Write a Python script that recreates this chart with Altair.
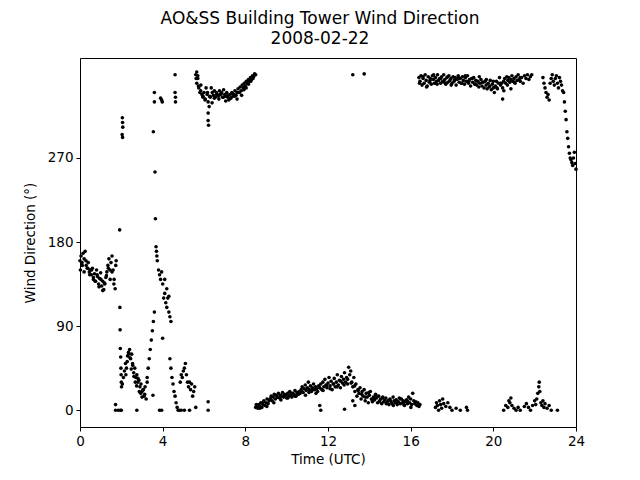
import altair as alt
import pandas as pd

# ---- regularly sampled runs: (start hour, step hour, values in degrees) ----
run_a_start, run_a_vals = 0.0, [160, 165, 158, 168, 162, 170, 155, 152, 158, 148, 150, 145, 152, 140, 146, 138,
                                150, 143, 135, 141, 147, 133, 138, 129, 135, 142, 148, 155, 162, 150, 158, 165,
                                150, 140, 130, 160]
run_a2_start, run_a2_vals = 0.02, [150, 155, 148, 160, 152, 145, 150, 142, 138, 145, 132, 140, 128, 136, 144, 152,
                                  140, 148, 135, 155]
run_c_start, run_c_vals = 2.05, [28, 35, 42, 50, 45, 58, 62, 65, 55, 60, 48, 40, 45, 35, 38, 30, 32, 25, 28, 20,
                                 22, 15, 25, 12, 30]
run_c2_start, run_c2_vals = 2.22, [38, 52, 60, 56, 44, 50, 36, 30, 26, 34, 20, 18, 14, 22, 17]
run_d_start, run_d_vals = 3.25, [35, 45, 55, 65, 75, 85, 95, 105]
run_f_start, run_f_vals = 3.80, [150, 145, 140, 148, 135, 120, 125, 115, 110, 120, 105, 100, 95]
run_h_start, run_h_vals = 4.35, [55, 45, 35, 28, 20, 15, 8, 3, 0]
run_i_start, run_i_vals = 4.85, [30, 38, 35, 42, 45, 50, 38, 30, 25]
run_j_start, run_j_vals = 5.30, [30, 22, 28, 15, 20, 25, 3]
run_k_start, run_k_vals = 5.60, [359, 350, 355, 345, 340, 348, 338, 335, 340, 332, 345, 338, 330, 325, 335, 345,
                                 340, 337, 342, 335, 340, 338, 336, 342, 338, 340, 335, 343, 338, 336, 340, 335,
                                 332, 338, 334, 340, 336, 338, 342, 337, 340, 344, 340, 346, 342, 348, 345, 350,
                                 347, 352, 350, 354, 352, 356, 354, 358, 357, 360, 359]
run_k2_start, run_k2_vals = 5.62, [355, 347, 342, 336, 333, 340, 336, 329, 334, 338, 333, 339, 335, 331, 337, 334,
                                   339, 336, 333, 340, 337, 343, 345, 349, 352, 355]
run_l_start, run_l_vals = 8.50, [3, 5, 2, 6, 4, 8, 3, 6, 10, 5, 8, 12, 7, 10,
                                 12, 15, 10, 14, 17, 12, 16, 14, 18, 13, 16, 15, 19, 14, 17, 16, 13, 18, 15, 20,
                                 16, 14, 18, 17, 21, 15, 19, 17,
                                 20, 18, 22, 25, 19, 23, 27, 21, 24, 30, 22, 26, 20, 24, 28, 22, 25, 23,
                                 20, 26, 24, 28, 22, 30, 25, 33, 27, 24, 29, 35, 26, 31, 22, 28, 34, 25, 30, 38,
                                 27, 32, 24, 36, 29, 33, 40, 30, 35, 28,
                                 46, 38, 42, 30, 25, 35, 20, 28, 15, 22,
                                 18, 24, 12, 20, 15, 22, 10, 18, 14, 8, 16, 20, 12, 9, 14, 11, 17, 13, 8, 15,
                                 10, 12, 7, 14, 9, 11, 13, 8, 10, 6, 12, 9, 7, 14, 10, 8, 11, 6, 9, 13,
                                 7, 12, 8, 10, 5, 9, 11, 7, 14, 8, 12, 6, 18, 10, 7, 9, 5, 8, 4, 6]
run_l2_start, run_l2_vals = 8.53, [6, 2, 9, 4, 12, 8, 14, 11, 16, 13, 18, 15, 17, 20, 16, 19, 22, 18, 24, 21,
                                   26, 23, 28, 25, 31, 27, 33, 29, 26, 21, 17, 14, 19, 11, 16, 9, 13, 7, 11, 5,
                                   9, 12, 6, 10, 3]
run_m_start, run_m_vals = 16.40, [356, 352, 358, 348, 355, 350, 359, 353, 347, 357, 351, 355, 349, 358, 354, 350,
                                  356, 352, 359, 353,
                                  355, 350, 357, 352, 359, 354, 349, 356, 351, 358, 353, 355, 350, 357, 352, 356,
                                  348, 354, 358, 351,
                                  355, 350, 357, 353, 349, 356, 352, 358, 350, 354, 347, 355, 351, 356, 349, 353,
                                  348, 352, 346, 350,
                                  354, 347, 351, 345, 352, 348, 344, 350, 346, 353, 343, 349, 345, 340, 347, 352,
                                  344, 350, 356, 348,
                                  350, 345, 352, 355, 350, 357, 353, 356, 351, 354, 358, 352, 355, 350, 357, 353,
                                  359, 354, 356]
run_m2_start, run_m2_vals = 16.43, [350, 357, 346, 353, 359, 349, 355, 351, 357, 348, 354, 356, 350, 358, 352, 355,
                                    349, 357, 351, 354, 347, 352, 345, 350, 342, 348, 344, 351]
run_p_start, run_p_vals = 21.30, [352, 356, 350, 358, 355, 359, 354, 357, 359]
run_q_start, run_q_vals = 22.40, [356, 350, 345, 340, 335, 338, 332, 350, 355, 359, 352, 348, 355, 358, 350, 345,
                                  356, 352, 348, 342]
run_r_start, run_r_vals = 23.40, [340, 330, 320, 311, 298, 291, 282, 275, 270, 268, 265, 262, 270, 276, 264, 258]
run_r_step = 0.04
step = 0.05

# ---- scattered single readings ----
pts_t = [1.72, 1.72, 1.85, 1.95, 2.00, 1.92, 1.93, 1.94, 1.95, 1.97, 1.98, 1.99, 2.00, 2.01,
         2.05, 2.06, 2.07, 2.04, 2.06, 2.75, 3.85, 3.95, 3.53,
         3.55, 3.60, 3.60, 3.63, 3.65, 3.68, 3.70, 3.72, 3.74,
         3.90, 3.95, 3.98, 4.00, 4.10, 4.30, 4.20,
         4.60, 4.60, 4.62, 4.62, 4.80, 4.90, 5.05, 5.30, 6.20, 6.20,
         6.20, 6.20, 6.22, 5.65, 5.70,
         11.60, 11.65, 12.80, 13.20, 13.30, 13.20, 13.75, 20.45,
         17.20, 17.25, 17.30, 17.35, 17.40, 17.45, 17.50, 17.55, 17.60, 17.70, 17.80, 17.90, 18.00, 18.20,
         18.40, 18.70, 18.75,
         20.50, 20.60, 20.70, 20.75, 20.80, 20.85, 20.90, 21.00, 21.10, 21.20, 21.30, 21.50, 21.60, 21.70,
         21.80, 21.90, 22.00, 22.05, 22.10, 22.15, 22.20, 22.22, 22.25, 22.30, 22.35, 22.40, 22.45, 22.50,
         22.60, 22.70, 22.80, 23.10]
pts_v = [6, 0, 0, 0, 0, 193, 110, 86, 66, 57, 45, 38, 30, 25,
         313, 308, 303, 295, 292, 0, 0, 0, 16,
         298, 330, 340, 255, 205, 175, 170, 165, 160,
         334, 332, 330, 77, 140, 122, 130,
         359, 340, 335, 330, 0, 0, 0, 0, 9, 0,
         310, 318, 305, 362, 358,
         5, 0, 1, 10, 5, 359, 360, 333,
         3, 8, 5, 0, 10, 6, 2, 12, 7, 4, 8, 3, 0, 2,
         0, 3, 0,
         0, 5, 3, 10, 8, 13, 5, 2, 0, 3, 0, 4, 7, 3,
         0, 5, 10, 6, 12, 18, 25, 30, 20, 8, 5, 10, 3, 7,
         2, 5, 0, 0]

runs = [
    (run_a_start, step, run_a_vals), (run_a2_start, 0.09, run_a2_vals),
    (run_c_start, step, run_c_vals), (run_c2_start, 0.065, run_c2_vals),
    (run_d_start, step, run_d_vals), (run_f_start, step, run_f_vals),
    (run_h_start, step, run_h_vals), (run_i_start, step, run_i_vals),
    (run_j_start, step, run_j_vals), (run_k_start, step, run_k_vals),
    (run_k2_start, 0.11, run_k2_vals), (run_l_start, step, run_l_vals),
    (run_l2_start, 0.17, run_l2_vals), (run_m_start, step, run_m_vals),
    (run_m2_start, 0.17, run_m2_vals), (run_p_start, 0.07, run_p_vals),
    (run_q_start, step, run_q_vals), (run_r_start, run_r_step, run_r_vals),
]

rows = []
for start, stp, vals in runs:
    for i, v in enumerate(vals):
        rows.append({"time": start + i * stp, "dir": v})
for t, v in zip(pts_t, pts_v):
    rows.append({"time": t, "dir": v})
df = pd.DataFrame(rows)

FONT = "DejaVu Sans"

chart = alt.Chart(df).mark_circle(size=13, color="black", opacity=1).encode(
    x=alt.X("time:Q", scale=alt.Scale(domain=[0, 24], nice=False, zero=False),
            axis=alt.Axis(values=[0, 4, 8, 12, 16, 20, 24], title="Time (UTC)", format="d",
                          labelFlush=False)),
    y=alt.Y("dir:Q", scale=alt.Scale(domain=[-18, 377], nice=False, zero=False),
            axis=alt.Axis(values=[0, 90, 180, 270], title="Wind Direction (°)", labelFlush=False)),
).properties(
    width=496, height=369,
    autosize=alt.AutoSizeParams(type="none"),
    padding={"left": 72, "top": 50, "right": 56, "bottom": 45},
    title=alt.TitleParams(["AO&SS Building Tower Wind Direction", "2008-02-22"],
                          font=FONT, fontSize=17, fontWeight="normal", color="black",
                          anchor="middle", offset=10, lineHeight=20, dx=-8),
).configure_view(
    stroke="black", strokeWidth=1
).configure_axis(
    grid=False, domain=False, tickColor="black", tickSize=4, tickWidth=1,
    labelFont=FONT, labelFontSize=13.5, labelColor="black", labelPadding=3,
    titleFont=FONT, titleFontSize=13.5, titleColor="black", titleFontWeight="normal",
).configure_axisX(titlePadding=5).configure_axisY(titlePadding=10)

chart.save("out.html", embed_options={"renderer": "svg", "actions": False})
